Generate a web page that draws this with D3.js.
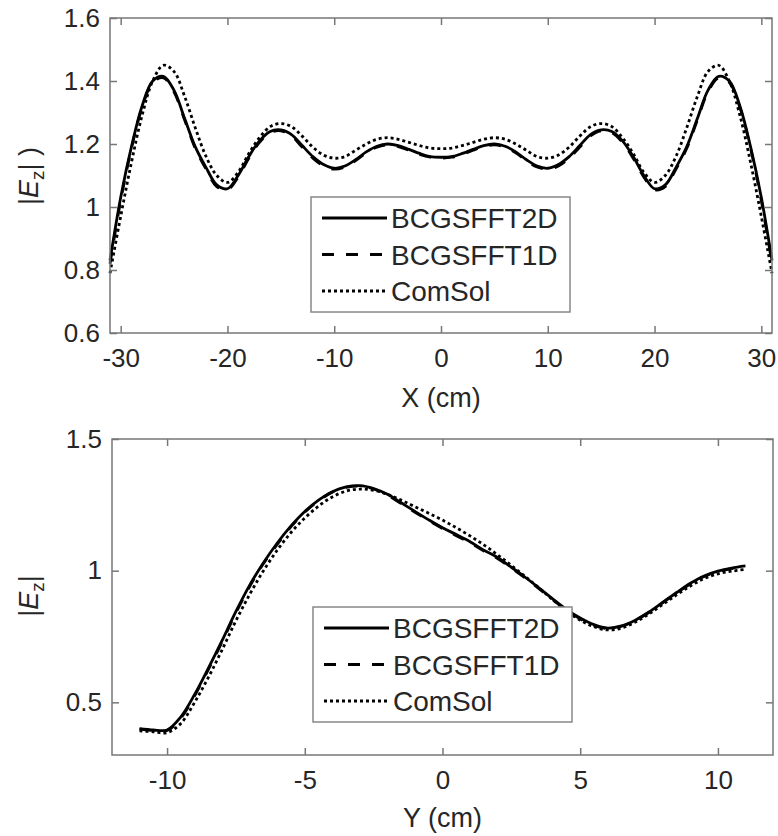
<!DOCTYPE html>
<html>
<head>
<meta charset="utf-8">
<script src="https://cdn.jsdelivr.net/npm/d3@7"></script>
<style>
  body { margin: 0; background: #fff; }
  text { font-family: Arial, "Liberation Sans", sans-serif; fill: #262626; }
</style>
</head>
<body>
<div id="graph"></div>
<script>
// top panel: |Ez| along X
let topX = [-31,-30,-29,-28,-27,-26,-25,-24,-23,-22,-21,-20,-19,-18,-17,-16,-15,-14,-13,-12,-11,-10,-9,-8,-7,-6,-5,-4,-3,-2,-1,0,
  1,2,3,4,5,6,7,8,9,10,11,12,13,14,15,16,17,18,19,20,21,22,23,24,25,26,27,28,29,30,31];
let top2D = [0.83,1.03,1.19,1.32,1.40,1.415,1.37,1.28,1.19,1.125,1.07,1.058,1.10,1.16,1.21,1.24,1.245,1.23,1.195,1.16,1.135,1.123,1.13,1.15,1.175,1.193,1.20,1.195,1.183,1.17,1.16,1.158,
  1.16,1.17,1.183,1.195,1.20,1.193,1.175,1.15,1.13,1.123,1.135,1.16,1.195,1.23,1.245,1.24,1.21,1.16,1.10,1.058,1.07,1.125,1.19,1.28,1.37,1.415,1.40,1.32,1.19,1.03,0.83];
let top1D = [0.82,1.02,1.185,1.315,1.395,1.41,1.365,1.275,1.185,1.12,1.065,1.055,1.095,1.155,1.205,1.236,1.242,1.226,1.19,1.155,1.13,1.12,1.127,1.147,1.172,1.19,1.197,1.192,1.18,1.167,1.158,1.155,
  1.158,1.167,1.18,1.192,1.197,1.19,1.172,1.147,1.127,1.12,1.13,1.155,1.19,1.226,1.242,1.236,1.205,1.155,1.095,1.055,1.065,1.12,1.185,1.275,1.365,1.41,1.395,1.315,1.185,1.02,0.82];
let topCom = [0.79,0.97,1.14,1.29,1.40,1.45,1.43,1.35,1.25,1.16,1.10,1.078,1.11,1.17,1.22,1.255,1.265,1.255,1.225,1.19,1.165,1.155,1.16,1.18,1.20,1.215,1.22,1.215,1.205,1.195,1.187,1.185,
  1.187,1.195,1.205,1.215,1.22,1.215,1.20,1.18,1.16,1.155,1.165,1.19,1.225,1.255,1.265,1.255,1.22,1.17,1.11,1.078,1.10,1.16,1.25,1.35,1.43,1.45,1.40,1.29,1.14,0.97,0.79];
let topXTicks = [-30,-20,-10,0,10,20,30];
let topXLabels = ["-30","-20","-10","0","10","20","30"];
let topYTicks = [0.6,0.8,1,1.2,1.4,1.6];
let topYLabels = ["0.6","0.8","1","1.2","1.4","1.6"];

// bottom panel: |Ez| along Y
let botX = [-11,-10.5,-10,-9.5,-9,-8.5,-8,-7.5,-7,-6.5,-6,-5.5,-5,-4.5,-4,-3.5,-3,-2.5,-2,-1.5,-1,-0.5,0,
  0.5,1,1.5,2,2.5,3,3.5,4,4.5,5,5.5,6,6.5,7,7.5,8,8.5,9,9.5,10,10.5,11];
let bot2D = [0.400,0.395,0.395,0.445,0.53,0.63,0.735,0.845,0.945,1.03,1.105,1.17,1.225,1.268,1.300,1.318,1.323,1.312,1.290,1.258,1.225,1.193,1.163,
  1.137,1.110,1.078,1.050,1.013,0.975,0.935,0.893,0.853,0.820,0.795,0.782,0.790,0.812,0.843,0.880,0.917,0.952,0.980,0.998,1.010,1.018];
let bot1D = [0.398,0.393,0.393,0.44,0.525,0.625,0.73,0.84,0.94,1.027,1.10,1.167,1.222,1.265,1.298,1.316,1.321,1.31,1.287,1.255,1.222,1.19,1.16,
  1.133,1.106,1.075,1.046,1.01,0.972,0.932,0.89,0.85,0.817,0.792,0.78,0.789,0.811,0.842,0.879,0.915,0.95,0.978,0.996,1.008,1.016];
let botCom = [0.392,0.388,0.385,0.42,0.50,0.595,0.70,0.81,0.91,1.00,1.078,1.145,1.20,1.245,1.280,1.302,1.310,1.305,1.290,1.268,1.243,1.218,1.192,
  1.163,1.132,1.098,1.060,1.020,0.978,0.935,0.890,0.848,0.812,0.787,0.775,0.782,0.805,0.836,0.872,0.908,0.942,0.970,0.988,0.998,1.005];
let botXTicks = [-10,-5,0,5,10];
let botXLabels = ["-10","-5","0","5","10"];
let botYTicks = [0.5,1,1.5];
let botYLabels = ["0.5","1","1.5"];

let names = ["BCGSFFT2D","BCGSFFT1D","ComSol"];
let dashes = [null, "12,12", "3,3"];

let svg = d3.select("#graph").append("svg")
  .attr("width", 778).attr("height", 836);

function panel(o) {
  let x = d3.scaleLinear().domain(o.xdom).range([o.left, o.right]);
  let y = d3.scaleLinear().domain(o.ydom).range([o.bottom, o.top]);
  let g = svg.append("g");

  let line = d3.line()
    .x(function(d) { return x(d[0]); })
    .y(function(d) { return y(d[1]); })
    .curve(d3.curveCatmullRom.alpha(0.5));

  o.series.forEach(function(s, i) {
    g.append("path")
      .datum(d3.zip(o.xs, s))
      .attr("d", line)
      .attr("fill", "none")
      .attr("stroke", "#000")
      .attr("stroke-width", 2.8)
      .attr("stroke-dasharray", dashes[i]);
  });

  // axes with inward ticks, MATLAB box style
  let ax = [
    [d3.axisBottom(x).tickValues(o.xticks).tickFormat(function(d, i) { return o.xlabels[i]; }), o.bottom, true],
    [d3.axisTop(x).tickValues(o.xticks).tickFormat(""), o.top, false]
  ];
  ax.forEach(function(a) {
    let ga = g.append("g").attr("transform", "translate(0," + a[1] + ")")
      .call(a[0].tickSizeInner(-7).tickSizeOuter(0).tickPadding(a[2] ? 16 : 0));
    ga.select(".domain").remove();
  });
  let ay = [
    [d3.axisLeft(y).tickValues(o.yticks).tickFormat(function(d, i) { return o.ylabels[i]; }), o.left],
    [d3.axisRight(y).tickValues(o.yticks).tickFormat(""), o.right]
  ];
  ay.forEach(function(a) {
    let ga = g.append("g").attr("transform", "translate(" + a[1] + ",0)")
      .call(a[0].tickSizeInner(-7).tickSizeOuter(0).tickPadding(10));
    ga.select(".domain").remove();
  });
  g.selectAll(".tick line").attr("stroke", "#777").attr("stroke-width", 1.5);
  g.selectAll(".tick text").attr("font-size", 26).attr("fill", "#262626")
    .attr("font-family", "Arial, 'Liberation Sans', sans-serif");

  g.append("rect")
    .attr("x", o.left).attr("y", o.top)
    .attr("width", o.right - o.left).attr("height", o.bottom - o.top)
    .attr("fill", "none").attr("stroke", "#777").attr("stroke-width", 1.5);

  // axis labels
  g.append("text")
    .attr("x", (o.left + o.right) / 2).attr("y", o.xlabY)
    .attr("text-anchor", "middle").attr("font-size", 27)
    .text(o.xlabel);

  let yl = g.append("text")
    .attr("transform", "translate(" + o.ylabX + "," + o.ylabY + ") rotate(-90)")
    .attr("text-anchor", "middle").attr("font-size", 27);
  yl.append("tspan").text("|");
  yl.append("tspan").attr("font-style", "italic").text("E");
  yl.append("tspan").attr("font-size", 19).attr("dy", 6).text("z");
  yl.append("tspan").attr("dy", -6).text(o.ytail);

  // legend
  let lg = g.append("g");
  lg.append("rect")
    .attr("x", o.leg[0]).attr("y", o.leg[1])
    .attr("width", 259).attr("height", 115)
    .attr("fill", "#fff").attr("stroke", "#888").attr("stroke-width", 1.5);
  names.forEach(function(n, i) {
    let ry = o.leg[1] + 21 + i * 36.5;
    lg.append("line")
      .attr("x1", o.leg[0] + 11).attr("x2", o.leg[0] + 76)
      .attr("y1", ry).attr("y2", ry)
      .attr("stroke", "#000").attr("stroke-width", 2.8)
      .attr("stroke-dasharray", dashes[i]);
    lg.append("text")
      .attr("x", o.leg[0] + 80).attr("y", ry).attr("dy", "0.36em")
      .attr("font-size", 28).text(n);
  });
}

panel({
  xs: topX, series: [top2D, top1D, topCom],
  xdom: [-31, 31], ydom: [0.6, 1.6],
  left: 110, right: 772, top: 18, bottom: 333,
  xticks: topXTicks, xlabels: topXLabels, yticks: topYTicks, ylabels: topYLabels,
  xlabel: "X (cm)", xlabY: 407, ytail: "| )", ylabX: 38, ylabY: 176,
  leg: [311, 197]
});

panel({
  xs: botX, series: [bot2D, bot1D, botCom],
  xdom: [-12, 12], ydom: [0.3, 1.5],
  left: 112, right: 773, top: 439, bottom: 755,
  xticks: botXTicks, xlabels: botXLabels, yticks: botYTicks, ylabels: botYLabels,
  xlabel: "Y (cm)", xlabY: 827, ytail: "|", ylabX: 38, ylabY: 596,
  leg: [313, 607]
});
</script>
</body>
</html>
